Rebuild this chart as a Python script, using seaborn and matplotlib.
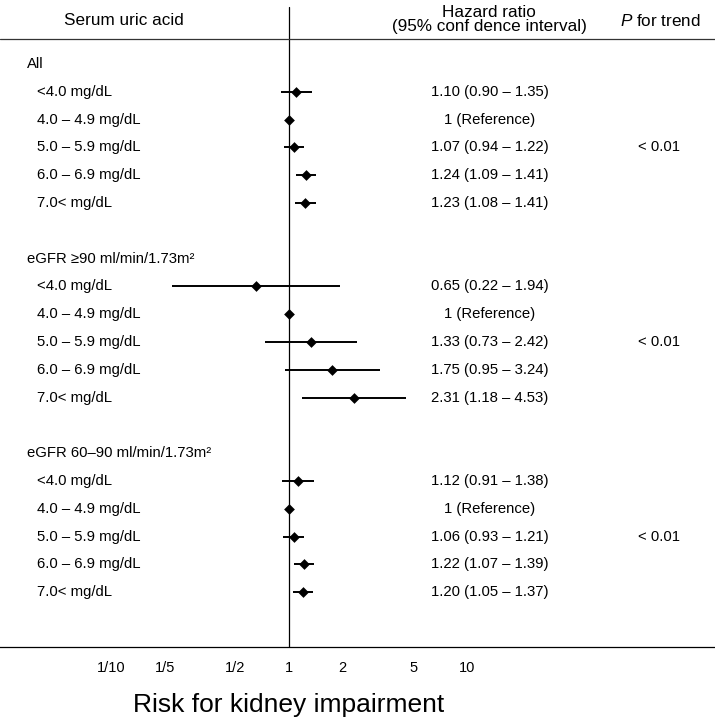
import pandas as pd  # tabela com os dados
import seaborn as sns  # desenha os pontos
import matplotlib.pyplot as plt  # controla o resto (textos, linhas, eixos)

# dados
grupos = ["All", "eGFR ≥90 ml/min/1.73m²", "eGFR 60–90 ml/min/1.73m²"]
niveis = ["<4.0 mg/dL", "4.0 – 4.9 mg/dL", "5.0 – 5.9 mg/dL", "6.0 – 6.9 mg/dL", "7.0< mg/dL"]

hr_all = [1.10, 1.00, 1.07, 1.24, 1.23]
lo_all = [0.90, 1.00, 0.94, 1.09, 1.08]
hi_all = [1.35, 1.00, 1.22, 1.41, 1.41]

hr_90 = [0.65, 1.00, 1.33, 1.75, 2.31]
lo_90 = [0.22, 1.00, 0.73, 0.95, 1.18]
hi_90 = [1.94, 1.00, 2.42, 3.24, 4.53]

hr_6090 = [1.12, 1.00, 1.06, 1.22, 1.20]
lo_6090 = [0.91, 1.00, 0.93, 1.07, 1.05]
hi_6090 = [1.38, 1.00, 1.21, 1.39, 1.37]

p_trend = ["< 0.01", "< 0.01", "< 0.01"]
referencia = 1  # indice da categoria de referencia

tick_vals = [0.1, 0.2, 0.5, 1, 2, 5, 10]
tick_labels = ["1/10", "1/5", "1/2", "1", "2", "5", "10"]

# monta a tabela: cada grupo ocupa 7 linhas (titulo + 5 niveis + linha vazia)
hrs = [hr_all, hr_90, hr_6090]
los = [lo_all, lo_90, lo_6090]
his = [hi_all, hi_90, hi_6090]
linhas = []
for g, nome in enumerate(grupos):
    for j, nivel in enumerate(niveis):
        linhas.append({"grupo": nome, "nivel": nivel, "y": 7 * g + 1 + j,
                       "hr": hrs[g][j], "lo": los[g][j], "hi": his[g][j], "ref": j == referencia})
df = pd.DataFrame(linhas)

sns.set_style("white")
plt.rcParams["font.family"] = ["Liberation Sans", "DejaVu Sans"]
plt.rcParams["text.color"] = "black"
plt.rcParams["xtick.color"] = "black"
plt.rcParams["mathtext.fontset"] = "custom"
plt.rcParams["mathtext.rm"] = "Liberation Sans"
plt.rcParams["mathtext.it"] = "Liberation Sans:italic"

# geometria em pixels (figura 715x721)
W, H = 715, 721
ROW_PX = 27.8   # distancia entre linhas
TOP_PX = 64     # y da linha "All"
AXIS_PX = 647   # y do eixo x


def linha(px):
    return (px - TOP_PX) / ROW_PX


fig = plt.figure(figsize=(W / 100, H / 100), dpi=100)
ax = fig.add_axes([0, 1 - AXIS_PX / H, 1, AXIS_PX / H])
ax.set_xscale("log")
ax.set_xlim(10 ** (-289 / 178), 10 ** ((W - 289) / 178))
ax.set_ylim(linha(AXIS_PX), linha(0))

# intervalos de confianca e pontos
com_ic = df[~df["ref"]]
ax.hlines(com_ic["y"], com_ic["lo"], com_ic["hi"], color="black", lw=1.4, zorder=2)
sns.scatterplot(data=df, x="hr", y="y", marker="D", color="black", s=30,
                linewidth=0, legend=False, ax=ax, zorder=3)

# linha vertical no 1 e linha do cabecalho
ax.axvline(1, ymin=0, ymax=1 - 7 / AXIS_PX, color="black", lw=0.9)
ax.axhline(linha(39), color="#333333", lw=0.9)

# eixo x
for lado in ["top", "left", "right"]:
    ax.spines[lado].set_visible(False)
ax.spines["bottom"].set_linewidth(0.9)
ax.spines["bottom"].set_color("black")
ax.set_xticks(tick_vals, labels=tick_labels)
ax.minorticks_off()
ax.set_yticks([])
ax.set_xlabel("")
ax.set_ylabel("")
ax.tick_params(axis="x", length=7, width=0.8, direction="out", labelsize=10.5, pad=3)

tr = ax.get_yaxis_transform()  # x em fracao do eixo, y em dados
fs = 10.7
fs_cab = 12.3

# cabecalhos
ax.text(124 / W, linha(21), "Serum uric acid", transform=tr, ha="center", va="center", fontsize=fs_cab)
ax.text(489 / W, linha(19.5), "Hazard ratio\n(95% conf dence interval)", transform=tr,
        ha="center", va="center", fontsize=fs_cab, linespacing=0.92)
ax.text(660 / W, linha(21), "$P$ for trend", transform=tr, ha="center", va="center", fontsize=fs_cab)

# textos de cada linha
for g, nome in enumerate(grupos):
    ax.text(27 / W, 7 * g, nome, transform=tr, ha="left", va="center", fontsize=fs)
    ax.text(659 / W, 7 * g + 3, p_trend[g], transform=tr, ha="center", va="center", fontsize=fs)
for _, r in df.iterrows():
    ax.text(37 / W, r["y"], r["nivel"], transform=tr, ha="left", va="center", fontsize=fs)
    if r["ref"]:
        txt = "1 (Reference)"
    else:
        txt = f"{r['hr']:.2f} ({r['lo']:.2f} – {r['hi']:.2f})"
    ax.text(490 / W, r["y"], txt, transform=tr, ha="center", va="center", fontsize=fs)

# titulo do eixo, centrado no 1
ax.text(1, (AXIS_PX - 705) / AXIS_PX, "Risk for kidney impairment", transform=ax.get_xaxis_transform(),
        ha="center", va="center", fontsize=19)

fig.savefig("out.png", dpi=100)
